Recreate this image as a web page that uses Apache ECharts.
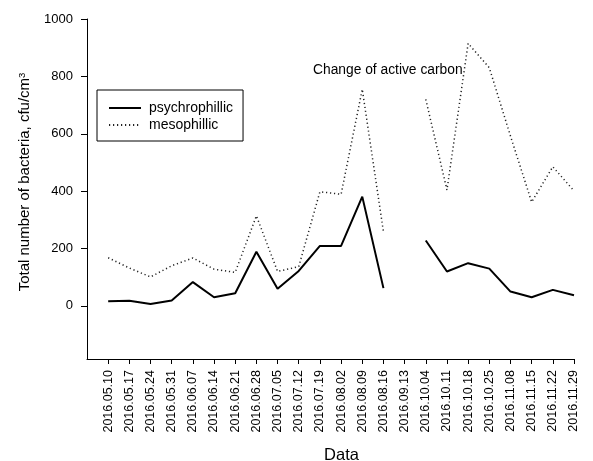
<!DOCTYPE html>
<html>
<head>
<meta charset="utf-8">
<script src="https://cdn.jsdelivr.net/npm/echarts@6/dist/echarts.min.js"></script>
<style>
  html, body { margin: 0; padding: 0; background: #fff; }
  #chart { width: 593px; height: 461px; }
</style>
</head>
<body>
<div id="chart"></div>
<script>
// sampling dates (x axis)
var dates = ['2016.05.10', '2016.05.17', '2016.05.24', '2016.05.31', '2016.06.07', '2016.06.14',
	'2016.06.21', '2016.06.28', '2016.07.05', '2016.07.12', '2016.07.19', '2016.08.02', '2016.08.09',
	'2016.08.16', '2016.09.13', '2016.10.04', '2016.10.11', '2016.10.18', '2016.10.25', '2016.11.08',
	'2016.11.15', '2016.11.22', '2016.11.29'];
// psychrophillic bacteria, cfu/cm3 (null = no measurement)
var psychro = [16, 18, 7, 19, 83, 30, 44, 189, 60, 122, 209, 209, 381, 62, null, 228, 120, 149, 130, 50, 30, 56, 37];
// mesophillic bacteria, cfu/cm3
var meso = [168, 132, 101, 140, 167, 128, 117, 314, 120, 137, 398, 389, 755, 259, null, 720, 404, 915, 830, 592, 362, 485, 401];
// y axis tick labels
var yTicks = [0, 200, 400, 600, 800, 1000];

var font = 'Liberation Sans, Arial, sans-serif';

// empty slot in front so the first date sits one step right of the y axis
var xData = [''].concat(dates);
function showTick(i) { return i > 0; }

var chart = echarts.init(document.getElementById('chart'));

var option = {
	animation: false,
	backgroundColor: '#fff',
	grid: { left: 87, right: 19, top: 19, bottom: 102, outerBoundsMode: 'none', containLabel: false },
	legend: {
		orient: 'vertical',
		left: 97,
		top: 90,
		padding: [11, 10, 9, 11],
		itemGap: 3,
		itemWidth: 32,
		itemHeight: 14,
		borderColor: '#000',
		borderWidth: 1,
		itemStyle: { opacity: 0 },
		textStyle: { fontFamily: font, fontSize: 14, color: '#000', padding: [0, 0, 0, 3] },
		data: ['psychrophillic', 'mesophillic']
	},
	xAxis: {
		type: 'category',
		data: xData,
		boundaryGap: false,
		name: 'Data',
		nameLocation: 'middle',
		nameGap: 88,
		nameTextStyle: { fontFamily: font, fontSize: 16.5, color: '#000', padding: [0, 0, 0, 22] },
		axisLine: { onZero: false, lineStyle: { color: '#000', width: 1 } },
		axisTick: { interval: showTick, length: 5, lineStyle: { color: '#000' } },
		axisLabel: { interval: showTick, rotate: 90, margin: 11, fontFamily: font, fontSize: 12.5, color: '#000' },
		splitLine: { show: false }
	},
	yAxis: {
		type: 'value',
		min: -185,
		max: 1000,
		name: 'Total number of bacteria, cfu/cm{sup|3}',
		nameLocation: 'middle',
		nameGap: 54,
		nameTextStyle: {
			fontFamily: font, fontSize: 15, color: '#000', padding: [0, 0, 0, 14],
			rich: { sup: { fontFamily: font, fontSize: 9.5, color: '#000', verticalAlign: 'top', padding: [0, 0, 6, 0] } }
		},
		axisLine: { show: true, lineStyle: { color: '#000', width: 1 } },
		axisTick: { show: true, customValues: yTicks, length: 6, lineStyle: { color: '#000' } },
		axisLabel: {
			customValues: yTicks, margin: 14, fontFamily: font, fontSize: 13, color: '#000',
			formatter: function (v) { return String(v); }
		},
		splitLine: { show: false }
	},
	graphic: [{
		type: 'text',
		left: 313,
		top: 63,
		style: { text: 'Change of active carbon', fontFamily: font, fontSize: 13.8, fill: '#000' }
	}],
	series: [
		{
			name: 'psychrophillic',
			type: 'line',
			data: [null].concat(psychro),
			symbol: 'none',
			connectNulls: false,
			lineStyle: { color: '#000', width: 2 },
			itemStyle: { color: '#000' }
		},
		{
			name: 'mesophillic',
			type: 'line',
			data: [null].concat(meso),
			symbol: 'none',
			connectNulls: false,
			lineStyle: { color: '#222', width: 1.5, type: [1.2, 2.8] },
			itemStyle: { color: '#222' }
		}
	]
};
chart.setOption(option);
</script>
</body>
</html>
